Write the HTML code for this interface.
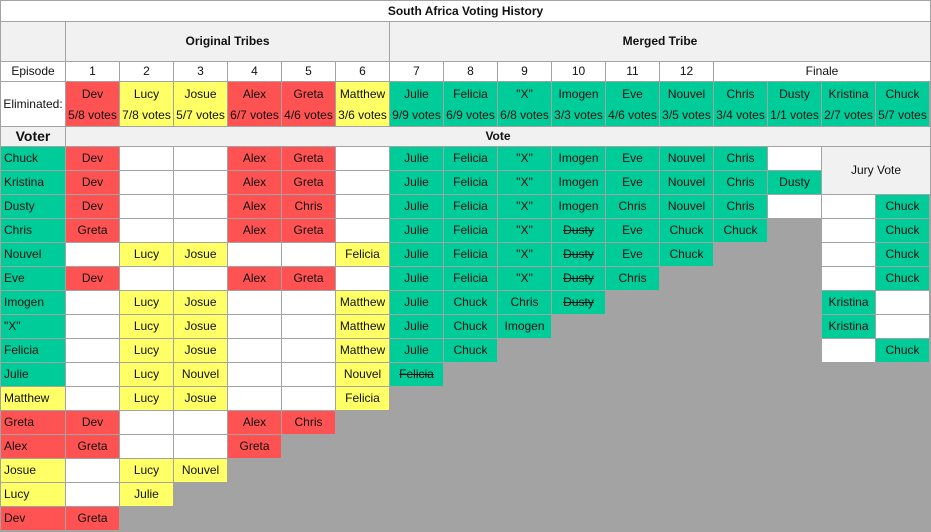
<!DOCTYPE html>
<html><head><meta charset="utf-8">
<style>
html,body{margin:0;padding:0;background:#fff;}
#tbl{position:relative;width:931px;height:532px;background:#a3a3a3;overflow:hidden;font-family:"Liberation Sans",Arial,sans-serif;font-size:12px;color:#111;}
.c{position:absolute;box-sizing:border-box;display:flex;align-items:center;justify-content:center;text-align:center;line-height:15px;white-space:nowrap;}
.w{background:#fff}.h{background:#f1f1f1}.r{background:#ff5252}.y{background:#ffff66}.g{background:#00cc99}
.b{font-weight:bold}
.name{justify-content:flex-start;padding-left:3px}
s{text-decoration:line-through}
</style></head><body>
<div id="tbl"></div>
<script>
const episodes=["1","2","3","4","5","6","7","8","9","10","11","12"];
const elimNames=["Dev","Lucy","Josue","Alex","Greta","Matthew","Julie","Felicia","\"X\"","Imogen","Eve","Nouvel","Chris","Dusty","Kristina","Chuck"];
const elimVotes=["5/8","7/8","5/7","6/7","4/6","3/6","9/9","6/9","6/8","3/3","4/6","3/5","3/4","1/1","2/7","5/7"];
const elimColors=["r","y","y","r","r","y","g","g","g","g","g","g","g","g","g","g"];
const voters=["Chuck","Kristina","Dusty","Chris","Nouvel","Eve","Imogen","\"X\"","Felicia","Julie","Matthew","Greta","Alex","Josue","Lucy","Dev"];
const voterColors=["g","g","g","g","g","g","g","g","g","g","y","r","r","y","y","r"];
// per voter: 16 entries; "" = white empty, null = grey, "~Name" = struck; J = jury span
const votes=[
["Dev","","","Alex","Greta","","Julie","Felicia","\"X\"","Imogen","Eve","Nouvel","Chris","","J","J"],
["Dev","","","Alex","Greta","","Julie","Felicia","\"X\"","Imogen","Eve","Nouvel","Chris","Dusty","J","J"],
["Dev","","","Alex","Chris","","Julie","Felicia","\"X\"","Imogen","Chris","Nouvel","Chris","","","Chuck"],
["Greta","","","Alex","Greta","","Julie","Felicia","\"X\"","~Dusty","Eve","Chuck","Chuck",null,"","Chuck"],
["","Lucy","Josue","","","Felicia","Julie","Felicia","\"X\"","~Dusty","Eve","Chuck",null,null,"","Chuck"],
["Dev","","","Alex","Greta","","Julie","Felicia","\"X\"","~Dusty","Chris",null,null,null,"","Chuck"],
["","Lucy","Josue","","","Matthew","Julie","Chuck","Chris","~Dusty",null,null,null,null,"Kristina",""],
["","Lucy","Josue","","","Matthew","Julie","Chuck","Imogen",null,null,null,null,null,"Kristina",""],
["","Lucy","Josue","","","Matthew","Julie","Chuck",null,null,null,null,null,null,"","Chuck"],
["","Lucy","Nouvel","","","Nouvel","~Felicia",null,null,null,null,null,null,null,null,null],
["","Lucy","Josue","","","Felicia",null,null,null,null,null,null,null,null,null,null],
["Dev","","","Alex","Chris",null,null,null,null,null,null,null,null,null,null,null],
["Greta","","","Greta",null,null,null,null,null,null,null,null,null,null,null,null],
["","Lucy","Nouvel",null,null,null,null,null,null,null,null,null,null,null,null,null],
["","Julie",null,null,null,null,null,null,null,null,null,null,null,null,null,null],
["Greta",null,null,null,null,null,null,null,null,null,null,null,null,null,null,null]
];
const T=document.getElementById('tbl');
function colX(i){return i===0?1:66+(i-1)*54;}
function colW(i,span){return i===0?64:span*54-1;}
function cell(x,y,w,h,cls,html,name){
  const d=document.createElement('div');
  d.className='c '+cls;
  d.style.left=x+'px';d.style.top=y+'px';d.style.width=w+'px';d.style.height=h+'px';
  d.innerHTML=html;
  
  
  T.appendChild(d);return d;
}
cell(1,1,929,20,'w b','South Africa Voting History','table-title');
cell(1,22,64,39,'h','','header-corner');
cell(66,22,323,39,'h b','Original Tribes','original-tribes-header');
cell(390,22,540,39,'h b','Merged Tribe','merged-tribe-header');
cell(1,62,64,19,'w','Episode','episode-label');
episodes.forEach((e,i)=>{cell(colX(i+1),62,53,19,'w',e,'episode-'+e);});
cell(714,62,216,19,'w','Finale','episode-finale');
cell(1,82,64,44,'w','Eliminated:','eliminated-label');
elimNames.forEach((n,i)=>{
  const d=cell(colX(i+1),82,53,44,elimColors[i],n+'<br>'+elimVotes[i]+' votes','eliminated-'+(i+1));
  d.style.lineHeight='21px';d.style.paddingTop='1px';
});
cell(1,127,64,19,'h b','Voter','voter-header').style.fontSize='14px';
cell(66,127,864,19,'h b','Vote','vote-header');
voters.forEach((v,r)=>{
  const y=147+r*24;
  cell(1,y,64,23,voterColors[r]+' name',v,'voter-'+r);
  votes[r].forEach((val,c)=>{
    const col=c+1;
    if(val===null||val==='J')return;
    let cls;
    if(val==='')cls='w';
    else if(col>=7)cls='g';
    else cls=(col===2||col===3||col===6)?'y':'r';
    let txt=val.startsWith('~')?'<s>'+val.slice(1)+'</s>':val;
    cell(colX(col),y,53,23,cls,txt,'vote-r'+r+'-c'+col);
  });
});
cell(822,147,108,47,'h','Jury Vote','jury-vote-header');
</script>
</body></html>
